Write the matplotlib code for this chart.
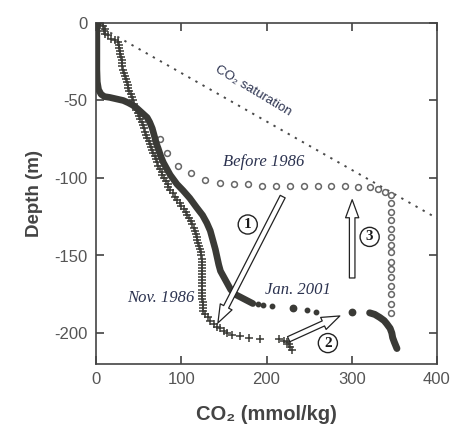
import matplotlib
matplotlib.use("Agg")
import matplotlib.pyplot as plt

# ---------------- data ----------------
x_ticks = [0, 100, 200, 300, 400]
y_ticks = [0, -50, -100, -150, -200]
x_tick_labels = ["0", "100", "200", "300", "400"]
y_tick_labels = ["0", "-50", "-100", "-150", "-200"]

# CO2 saturation line (end points)
sat_x = [0, 400]
sat_y = [-1, -126]

# Before 1986 profile (open circles)
before_x = [75, 83, 96, 112, 128, 145, 162, 178, 195, 211, 228, 244, 260, 276, 292,
            307, 321, 331, 339, 346,
            346, 346, 346, 346, 346, 346, 346, 346, 346, 346, 346, 346, 346, 346]
before_y = [-75, -84, -92, -97, -101, -103, -104, -104, -105, -105, -105, -105, -105, -105, -105,
            -106, -106, -107, -109, -111,
            -116, -122, -127, -133, -138, -143, -148, -154, -159, -164, -170, -175, -181, -187]

# Nov. 1986 profile (+ markers)
nov_x = [2, 5, 8, 10, 11, 9, 14, 18, 22, 26, 27, 27, 28, 28, 29, 30, 30, 31, 32, 33, 34, 35,
         36, 37, 38, 39, 41, 42, 43, 44, 46, 47, 49, 51, 52, 54, 55, 56, 58, 59, 60, 62, 63,
         65, 66, 67, 69, 70, 72, 73, 75, 77, 78, 80, 82, 84, 85, 87, 90, 93, 95, 98, 100, 103,
         105, 107, 109, 111, 113, 115, 116, 117, 118, 119, 120, 121, 122, 123, 123, 124, 124,
         124, 124, 124, 124, 124, 124, 124, 124, 124, 124, 124, 124, 125, 125, 125, 126, 128,
         131, 134, 138, 142, 146, 150, 154, 160, 169, 179, 192,
         215, 220, 224, 226, 228, 230]
nov_y = [0, -1, -2, -4, -7, -5, -8, -10, -11, -12, -14, -16, -18, -20, -22, -24, -26, -28, -30,
         -32, -34, -36, -38, -40, -42, -44, -46, -48, -50, -52, -54, -56, -58, -60, -62, -64,
         -66, -68, -70, -72, -74, -76, -78, -80, -82, -84, -86, -88, -90, -92, -94, -96, -98,
         -100, -102, -104, -106, -108, -110, -112, -114, -116, -118, -120, -122, -124, -126,
         -128, -130, -132, -134, -136, -138, -140, -142, -144, -146, -148, -150, -152, -154,
         -156, -158, -160, -162, -164, -166, -168, -170, -172, -174, -176, -178, -180, -182,
         -184, -186, -188, -190, -192, -194, -196, -197, -199, -200, -201, -202, -203, -204,
         -204, -205, -206, -207, -209, -211]

# Jan. 2001 profile: dense upper part, sparse dots, dense bottom part
jan_x = [1, 1, 1, 1, 1, 1.5, 3, 6, 10, 16, 24, 32, 38, 43, 48, 52, 56, 60, 63, 66, 68, 69,
         71, 73, 76, 79, 83, 87, 91, 95, 102, 110, 118, 125, 130, 134, 137, 140, 142, 144,
         146, 150, 154, 158, 163, 170, 177, 184]
jan_y = [0, -5, -10, -20, -30, -38, -43, -46, -47.5, -48, -49, -50, -51.5, -53, -55, -57, -59,
         -61, -64, -68, -72, -74, -78, -81, -86, -90, -94, -98, -101, -104, -108, -113, -119,
         -124, -129, -134, -140, -146, -151, -156, -160, -164, -168, -172, -175, -177, -179, -181]
jan_dot_x = [190, 196, 207, 247, 258]
jan_dot_y = [-181, -182, -182.5, -185, -186.5]
jan_bigdot_x = [231, 300]
jan_bigdot_y = [-184, -186.5]
jan_deep_x = [321, 327, 333, 338, 341, 345, 347, 348, 350, 353]
jan_deep_y = [-187, -188, -190, -192, -194, -197, -200, -203, -206, -210]

# Arrows (tail -> tip) and their circled numbers
arrow_tails = [(219, -112), (226, -204), (300.5, -164.5)]
arrow_tips = [(143, -193.5), (286, -189), (300.5, -114)]
circle_labels = ["1", "2", "3"]
circle_pos = [(178, -130), (272, -206.5), (321, -138)]

# ---------------- figure ----------------
DARK = "#3a3a36"
fig = plt.figure(figsize=(4.53, 4.30), dpi=100)
ax = fig.add_axes([96 / 453, 66 / 430, 341 / 453, 341 / 430])
ax.set_xlim(0, 400)
ax.set_ylim(-220, 0)

# saturation line
ax.plot(sat_x, sat_y, color="#4a4a4a", lw=1.4, linestyle=(0, (1.2, 3.0)), zorder=1)
ax.text(184, -44, "CO\u2082 saturation", rotation=-31, rotation_mode="anchor",
        ha="center", va="center", fontsize=9.5, color="#2c3350",
        family=["Liberation Sans", "DejaVu Sans"])

# before 1986
ax.plot(before_x, before_y, linestyle="none", marker="o", ms=4.2, mfc="white",
        mec="#666666", mew=1.1, zorder=2)

# Nov 1986
ax.plot(nov_x, nov_y, linestyle="none", marker="+", ms=6, mew=1.1, color=DARK, zorder=3)

# Jan 2001
ax.plot(jan_x, jan_y, color=DARK, lw=4.8, solid_capstyle="round", solid_joinstyle="round",
        zorder=4)
ax.plot(jan_dot_x, jan_dot_y, linestyle="none", marker="o", ms=3.2, color=DARK, zorder=4)
ax.plot(jan_bigdot_x, jan_bigdot_y, linestyle="none", marker="o", ms=4.6, color=DARK, zorder=4)
ax.plot(jan_deep_x, jan_deep_y, color=DARK, lw=5.0, solid_capstyle="round",
        solid_joinstyle="round", zorder=4)

# arrows
for tail, tip in zip(arrow_tails, arrow_tips):
    ax.annotate("", xy=tip, xytext=tail,
                arrowprops=dict(arrowstyle="simple,head_length=1.3,head_width=0.95,tail_width=0.4",
                                fc="white", ec="#222222", lw=0.9, shrinkA=0, shrinkB=0,
                                mutation_scale=10),
                zorder=6)

for lab, (cx, cy) in zip(circle_labels, circle_pos):
    ax.text(cx, cy, lab, ha="center", va="center", fontsize=11, fontweight="bold",
            family=["Liberation Serif", "DejaVu Serif"], color="#1a1a1a",
            bbox=dict(boxstyle="circle,pad=0.2", fc="white", ec="#222222", lw=1.0), zorder=7)

# annotations
serif_it = dict(family=["Liberation Serif", "DejaVu Serif"], style="italic", fontsize=12,
                color="#2c3350")
ax.text(149, -90, "Before 1986", ha="left", va="center", **serif_it)
ax.text(116, -177.5, "Nov. 1986", ha="right", va="center", **serif_it)
ax.text(198, -172, "Jan. 2001", ha="left", va="center", **serif_it)

# axes styling
ax.set_xticks(x_ticks)
ax.set_xticklabels(x_tick_labels)
ax.set_yticks(y_ticks)
ax.set_yticklabels(y_tick_labels)
ax.tick_params(direction="in", length=6, width=1.1, top=True, right=True,
               labelsize=12, colors="#333333", pad=6)
for lab in ax.get_xticklabels() + ax.get_yticklabels():
    lab.set_family(["Liberation Sans", "DejaVu Sans"])
    lab.set_color("#555555")
for s in ax.spines.values():
    s.set_linewidth(1.2)
    s.set_color("#444444")

ax.set_xlabel("CO\u2082 (mmol/kg)", fontsize=14.5, fontweight="bold",
              family=["Liberation Sans", "DejaVu Sans"], color="#444444", labelpad=13)
ax.set_ylabel("Depth (m)", fontsize=13.5, fontweight="bold",
              family=["Liberation Sans", "DejaVu Sans"], color="#444444", labelpad=8)

fig.savefig("out.png", dpi=100)
